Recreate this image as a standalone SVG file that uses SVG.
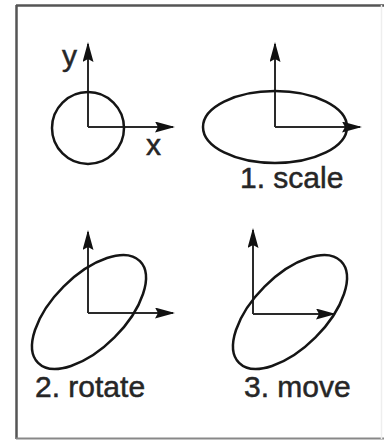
<svg xmlns="http://www.w3.org/2000/svg" width="388" height="441" viewBox="0 0 388 441">
<style>
.shape{fill:none;stroke:#151515;stroke-width:2.5}
.axis{fill:none;stroke:#2a2a2a;stroke-width:2;marker-end:url(#arr)}
.lbl{font-family:"Liberation Sans",Arial,sans-serif;font-size:30px;fill:#262626;stroke:#262626;stroke-width:0.5}
</style>
<defs>
<marker id="arr" markerUnits="userSpaceOnUse" markerWidth="20" markerHeight="11" refX="18" refY="5.5" orient="auto">
<path d="M0,0 L20,5.5 L0,11 L3,5.5 z" fill="#111"/>
</marker>
</defs>
<rect x="0" y="0" width="388" height="441" fill="#fff"/>
<g id="frame">
<line x1="16" y1="5.5" x2="384" y2="5.5" stroke="#555" stroke-width="2.5"/>
<line x1="16.5" y1="5" x2="16.5" y2="439" stroke="#555" stroke-width="2.5"/>
<line x1="16" y1="438.5" x2="384" y2="438.5" stroke="#888" stroke-width="2"/>
<line x1="381.5" y1="5" x2="381.5" y2="439" stroke="#eee" stroke-width="1.5"/>
</g>
<g id="connectors">
<line class="axis" x1="88" y1="127" x2="88" y2="44"/>
<line class="axis" x1="88" y1="127" x2="173" y2="127"/>
<line class="axis" x1="275" y1="127" x2="275" y2="44"/>
<line class="axis" x1="275" y1="127" x2="360" y2="127"/>
<line class="axis" x1="88" y1="313" x2="88" y2="232"/>
<line class="axis" x1="88" y1="313" x2="173" y2="313"/>
<line class="axis" x1="253" y1="314" x2="253" y2="230"/>
<line class="axis" x1="253" y1="314" x2="334" y2="314"/>
</g>
<g id="original">
<circle class="shape" cx="88" cy="128" r="36"/>
<text class="lbl" x="62" y="66">y</text>
<text class="lbl" x="146" y="155">x</text>
</g>
<g id="scale">
<ellipse class="shape" cx="275" cy="127" rx="72" ry="36"/>
<text class="lbl" x="240" y="188">1. scale</text>
</g>
<g id="rotate">
<ellipse class="shape" cx="89" cy="312" rx="72" ry="36" transform="rotate(-45 89 312)"/>
<text class="lbl" x="35" y="397">2. rotate</text>
</g>
<g id="move">
<ellipse class="shape" cx="290" cy="312" rx="72" ry="36" transform="rotate(-45 290 312)"/>
<text class="lbl" x="244" y="397">3. move</text>
</g>
</svg>
